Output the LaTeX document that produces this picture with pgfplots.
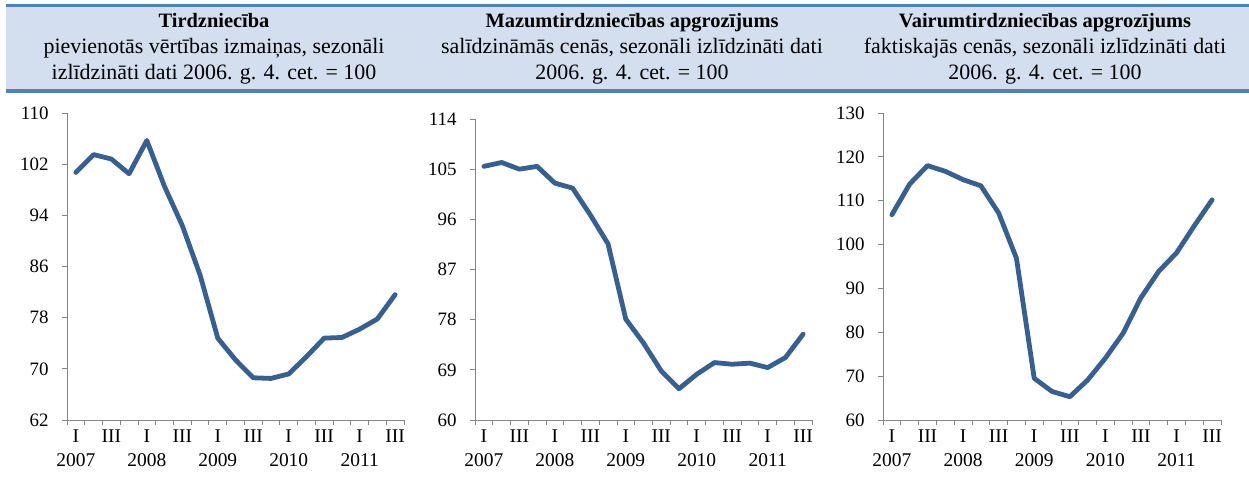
\documentclass[border=0pt]{standalone}
\usepackage{pgfplots}
\pgfplotsset{compat=1.18}
\usepackage{fontspec}
\setmainfont{Liberation Serif}
\definecolor{hdrfill}{RGB}{211,222,238}
\definecolor{hdrline}{RGB}{79,129,189}
\definecolor{serie}{RGB}{55,96,146}
\definecolor{axgray}{RGB}{134,134,134}

\pgfplotstableread{
x y
1 100.7
2 103.5
3 102.8
4 100.5
5 105.7
6 98.5
7 92.4
8 84.7
9 74.8
10 71.4
11 68.6
12 68.5
13 69.2
14 71.9
15 74.8
16 74.9
17 76.2
18 77.8
19 81.6
}\tabA
\pgfplotstableread{
x y
1 105.5
2 106.2
3 105.0
4 105.5
5 102.5
6 101.6
7 96.8
8 91.6
9 78.1
10 73.8
11 68.8
12 65.6
13 68.2
14 70.3
15 70.0
16 70.2
17 69.4
18 71.2
19 75.4
}\tabB
\pgfplotstableread{
x y
1 106.8
2 113.8
3 118.0
4 116.7
5 114.8
6 113.4
7 107.2
8 96.9
9 69.5
10 66.5
11 65.3
12 69.1
13 74.1
14 79.8
15 87.9
16 93.9
17 98.1
18 104.3
19 110.2
}\tabC

\newcommand{\tickfont}{\fontsize{19}{22}\selectfont}
\pgfplotsset{
  panel/.style={
    scale only axis,
    anchor=south west,
    axis lines*=left,
    axis line style={draw=axgray, line width=0.8bp},
    xmin=0.5, xmax=19.5,
    xtick={0.5,1.5,...,19.5},
    xticklabels={},
    extra x ticks={1,3,5,7,9,11,13,15,17,19},
    extra x tick labels={{I\\2007},III,{I\\2008},III,{I\\2009},III,{I\\2010},III,{I\\2011},III},
    extra x tick style={major tick length=0pt, tick label style={yshift=-6bp}},
    xticklabel style={align=center, anchor=north, font=\fontsize{19.5}{24}\selectfont},
    yticklabel={\tickfont\pgfmathprintnumber{\tick}},
    yticklabel style={font=\tickfont, xshift=-10bp},
    tick style={draw=axgray, line width=0.8bp},
    tick align=outside,
    major tick length=5bp,
    /pgf/number format/assume math mode=true,
    clip=false,
  },
  serie/.style={draw=serie, line width=4.8bp, line join=round, line cap=round, no marks},
}

\begin{document}
\begin{tikzpicture}[x=1bp,y=1bp]
\path[use as bounding box] (0,0) rectangle (1249,484);
\fill[hdrfill] (6,391) rectangle (1249,479);
\fill[hdrline] (6,477) rectangle (1249,480);
\fill[hdrline] (6,391) rectangle (1249,395);

\node[align=center, font=\fontsize{22}{26}\selectfont] at (214,435)
  {{\fontsize{20.5}{26}\selectfont\bfseries Tirdzniecība}\\pievienotās vērtības izmaiņas, sezonāli\\izlīdzināti dati 2006. g. 4. cet. = 100};
\node[align=center, font=\fontsize{22}{26}\selectfont] at (632,435)
  {{\fontsize{20.5}{26}\selectfont\bfseries Mazumtirdzniecības apgrozījums}\\salīdzināmās cenās, sezonāli izlīdzināti dati\\2006. g. 4. cet. = 100};
\node[align=center, font=\fontsize{22}{26}\selectfont] at (1045,435)
  {{\fontsize{20.5}{26}\selectfont\bfseries Vairumtirdzniecības apgrozījums}\\faktiskajās cenās, sezonāli izlīdzināti dati\\2006. g. 4. cet. = 100};

\begin{axis}[panel, at={(67bp,64bp)}, width=337bp, height=307bp,
  ymin=62, ymax=110, ytick={62,70,78,86,94,102,110}]
\addplot[serie] table[x=x,y=y] {\tabA};
\end{axis}

\begin{axis}[panel, at={(475bp,64bp)}, width=337bp, height=301bp,
  ymin=60, ymax=114, ytick={60,69,78,87,96,105,114}]
\addplot[serie] table[x=x,y=y] {\tabB};
\end{axis}

\begin{axis}[panel, at={(883bp,64bp)}, width=338bp, height=307bp,
  ymin=60, ymax=130, ytick={60,70,...,130}]
\addplot[serie] table[x=x,y=y] {\tabC};
\end{axis}
\end{tikzpicture}
\end{document}
